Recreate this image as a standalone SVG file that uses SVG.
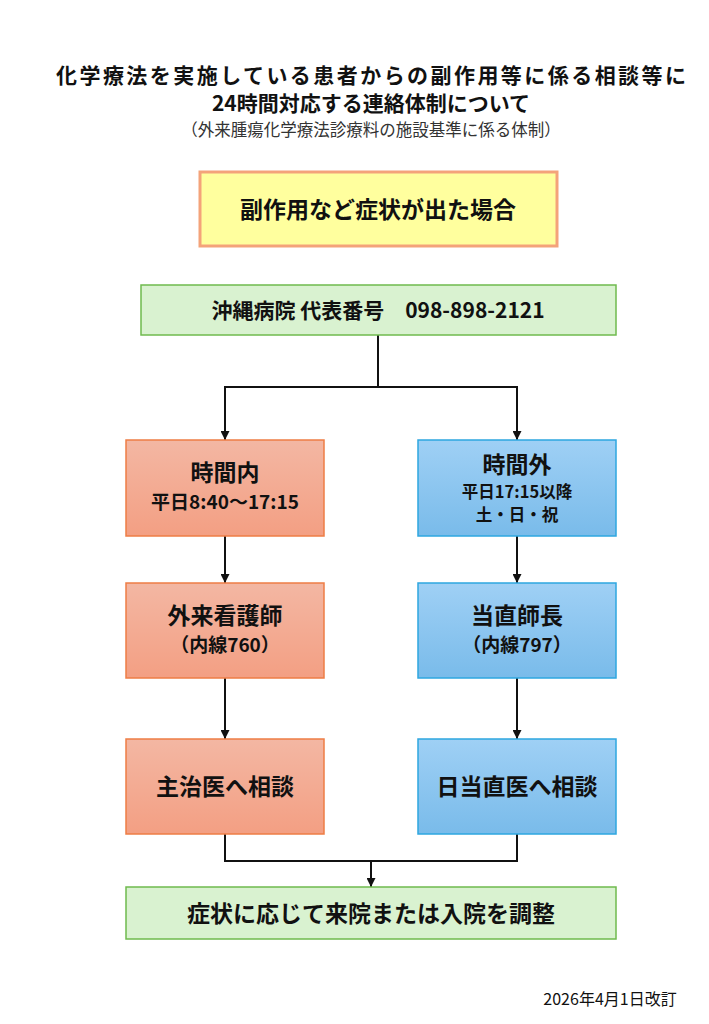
<svg xmlns="http://www.w3.org/2000/svg" width="709" height="1024" viewBox="0 0 709 1024">
<style>
text{font-family:"Noto Sans CJK JP","Noto Sans",sans-serif;font-weight:bold;fill:#111;text-anchor:middle}
.n{font-weight:normal}
.red{fill:url(#gr);stroke:#ee7d45;stroke-width:1.5}
.blue{fill:url(#gb);stroke:#2ea7e0;stroke-width:1.5}
.green{fill:#d9f2d0;stroke:#6fba4e;stroke-width:1.5}
.ln{stroke:#111;stroke-width:2;fill:none}
</style>
<defs>
<linearGradient id="gr" x1="0" y1="0" x2="0" y2="1"><stop offset="0" stop-color="#f3b7a3"/><stop offset="1" stop-color="#f39f83"/></linearGradient>
<linearGradient id="gb" x1="0" y1="0" x2="0" y2="1"><stop offset="0" stop-color="#9fd0f5"/><stop offset="1" stop-color="#79bbea"/></linearGradient>
<marker id="ar" viewBox="0 0 10 10" refX="10" refY="5" markerWidth="4.5" markerHeight="4.5" orient="auto"><path d="M0,0L10,5L0,10z" fill="#111"/></marker>
</defs>
<rect width="709" height="1024" fill="#fff"/>
<g id="title">
<text x="371" y="83" font-size="21" textLength="630">化学療法を実施している患者からの副作用等に係る相談等に</text>
<text x="371" y="111" font-size="21">24時間対応する連絡体制について</text>
<text x="371" y="136" font-size="16.5" class="n" style="fill:#333">（外来腫瘍化学療法診療料の施設基準に係る体制）</text>
</g>
<g id="connectors">
<polyline class="ln" points="378,335 378,387 225,387 225,440" marker-end="url(#ar)"/>
<polyline class="ln" points="378,387 517,387 517,440" marker-end="url(#ar)"/>
<line class="ln" x1="225" y1="536" x2="225" y2="583" marker-end="url(#ar)"/>
<line class="ln" x1="517" y1="536" x2="517" y2="583" marker-end="url(#ar)"/>
<line class="ln" x1="225" y1="678" x2="225" y2="739" marker-end="url(#ar)"/>
<line class="ln" x1="517" y1="678" x2="517" y2="739" marker-end="url(#ar)"/>
<polyline class="ln" points="225,834 225,861 517,861 517,834"/>
<line class="ln" x1="371" y1="861" x2="371" y2="887" marker-end="url(#ar)"/>
</g>
<g id="start"><rect x="200" y="172" width="357" height="74" fill="#ffff9e" stroke="#f4a37a" stroke-width="3"/><text x="378" y="218" font-size="23">副作用など症状が出た場合</text></g>
<g id="main"><rect class="green" x="141" y="285" width="475" height="50"/><text x="378" y="318" font-size="21">沖縄病院 代表番号　098-898-2121</text></g>
<g id="in"><rect class="red" x="126" y="440" width="198" height="96"/><text x="225" y="481" font-size="23">時間内</text><text x="225" y="509" font-size="19">平日8:40〜17:15</text></g>
<g id="out"><rect class="blue" x="418" y="440" width="198" height="96"/><text x="517" y="473" font-size="23">時間外</text><text x="517" y="498" font-size="16.5">平日17:15以降</text><text x="517" y="521" font-size="16.5">土・日・祝</text></g>
<g id="nurse"><rect class="red" x="126" y="583" width="198" height="95"/><text x="225" y="624" font-size="23">外来看護師</text><text x="225" y="652" font-size="19">（内線760）</text></g>
<g id="chief"><rect class="blue" x="418" y="583" width="198" height="95"/><text x="517" y="624" font-size="23">当直師長</text><text x="517" y="652" font-size="19">（内線797）</text></g>
<g id="doc"><rect class="red" x="126" y="739" width="198" height="95"/><text x="225" y="795" font-size="23">主治医へ相談</text></g>
<g id="duty"><rect class="blue" x="418" y="739" width="198" height="95"/><text x="517" y="795" font-size="23">日当直医へ相談</text></g>
<g id="end"><rect class="green" x="126" y="887" width="490" height="52"/><text x="371" y="922" font-size="23">症状に応じて来院または入院を調整</text></g>
<text x="610" y="1005" font-size="16" class="n">2026年4月1日改訂</text>
</svg>
